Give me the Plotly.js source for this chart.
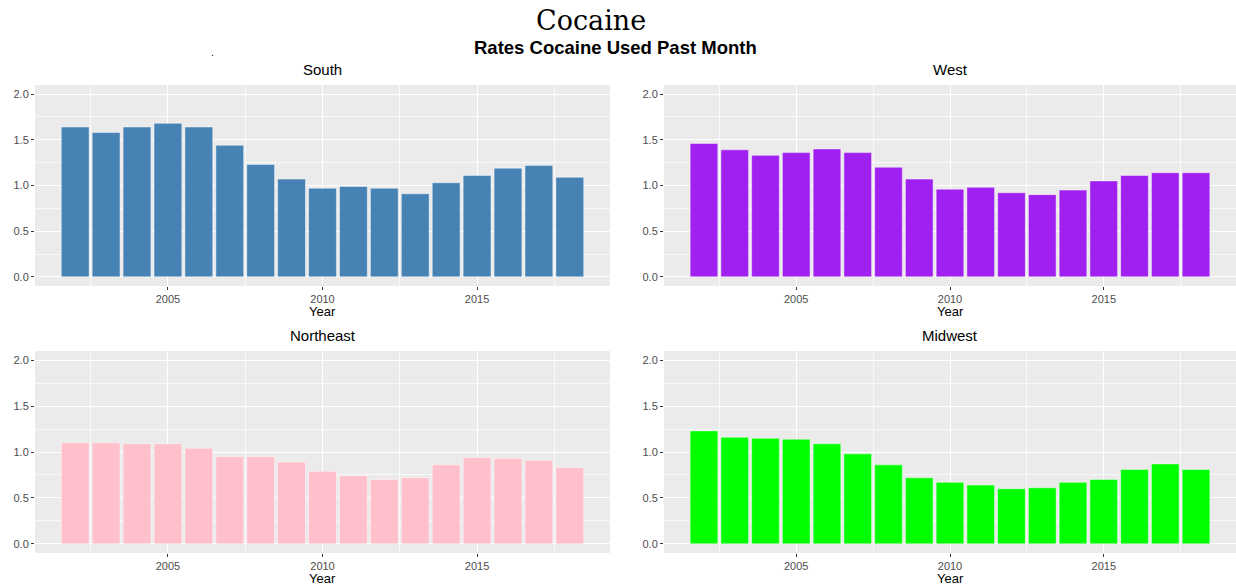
<!DOCTYPE html>
<html>
<head>
<meta charset="utf-8">
<script src="https://cdn.plot.ly/plotly-3.0.1.min.js"></script>
<style>html,body{margin:0;padding:0;background:#fff;}#chart{width:1236px;height:587px;}</style>
</head>
<body>
<div id="chart"></div>
<script>
const years = [2002,2003,2004,2005,2006,2007,2008,2009,2010,2011,2012,2013,2014,2015,2016,2017,2018];
const south =     [1.64,1.58,1.64,1.68,1.64,1.44,1.23,1.07,0.97,0.99,0.97,0.91,1.03,1.11,1.19,1.22,1.09];
const west =      [1.46,1.39,1.33,1.36,1.40,1.36,1.20,1.07,0.96,0.98,0.92,0.90,0.95,1.05,1.11,1.14,1.14];
const northeast = [1.10,1.10,1.09,1.09,1.04,0.95,0.95,0.89,0.79,0.74,0.70,0.72,0.86,0.94,0.93,0.91,0.83];
const midwest =   [1.23,1.16,1.15,1.14,1.09,0.98,0.86,0.72,0.67,0.64,0.60,0.61,0.67,0.70,0.81,0.87,0.81];
const regionNames = ["South","West","Northeast","Midwest"];
const regionColors = ["#4682B4","#A020F0","#FFC0CB","#00FF00"];
const mainTitle = "Cocaine";
const subTitle = "Rates Cocaine Used Past Month";
const xTitle = "Year";

const series = [south, west, northeast, midwest];
const W = 1236, H = 587;
const xDom = [[35/W, 610/W], [664/W, 1]];
const yDom = [[1-553/H, 1-351/H], [1-286/H, 1-85/H]];
// panel order: South (top-left), West (top-right), Northeast (bottom-left), Midwest (bottom-right)
const pos = [[0,1],[1,1],[0,0],[1,0]];

const traces = [];
const layout = {
  width: W, height: H,
  margin: {l:0, r:0, t:0, b:0},
  paper_bgcolor: "#ffffff",
  plot_bgcolor: "#EBEBEB",
  showlegend: false,
  bargap: 0.1,
  font: {family: "Liberation Sans, Arial, sans-serif"},
  annotations: []
};

series.forEach((vals, i) => {
  const n = i + 1;
  const xa = n === 1 ? "x" : "x" + n;
  const ya = n === 1 ? "y" : "y" + n;
  traces.push({
    type: "bar", x: years, y: vals, xaxis: xa, yaxis: ya,
    marker: {color: regionColors[i], line: {color: "rgba(255,255,255,0.45)", width: 1}},
    width: 0.9, hoverinfo: "x+y"
  });
  const xk = n === 1 ? "xaxis" : "xaxis" + n;
  const yk = n === 1 ? "yaxis" : "yaxis" + n;
  const [cx, cy] = pos[i];
  layout[xk] = {
    domain: xDom[cx], anchor: ya,
    range: [2000.7, 2019.3],
    tickmode: "array", tickvals: [2005, 2010, 2015],
    ticks: "outside", ticklen: 3, tickcolor: "#333333", tickwidth: 1,
    tickfont: {size: 11, color: "#4D4D4D"},
    showgrid: true, gridcolor: "#FFFFFF", gridwidth: 1,
    minor: {tickmode: "array", tickvals: [2002.5, 2007.5, 2012.5, 2017.5], showgrid: true, gridcolor: "#FFFFFF", gridwidth: 0.7, ticks: ""},
    zeroline: false, showline: false, fixedrange: true
  };
  layout[yk] = {
    domain: yDom[cy], anchor: xa,
    range: [-0.1, 2.1],
    tickmode: "array", tickvals: [0, 0.5, 1, 1.5, 2], ticktext: ["0.0","0.5","1.0","1.5","2.0"],
    ticks: "outside", ticklen: 3, tickcolor: "#333333", tickwidth: 1,
    tickfont: {size: 11, color: "#4D4D4D"},
    showgrid: true, gridcolor: "#FFFFFF", gridwidth: 1,
    minor: {tickmode: "array", tickvals: [0.25, 0.75, 1.25, 1.75], showgrid: true, gridcolor: "#FFFFFF", gridwidth: 0.7, ticks: ""},
    zeroline: false, showline: false, fixedrange: true
  };
  const xc = (xDom[cx][0] + xDom[cx][1]) / 2;
  layout.annotations.push({
    text: regionNames[i], xref: "paper", yref: "paper", x: xc, y: yDom[cy][1] + 5/H,
    xanchor: "center", yanchor: "bottom", showarrow: false,
    font: {size: 15, color: "#000000"}
  });
  layout.annotations.push({
    text: xTitle, xref: "paper", yref: "paper", x: xc, y: yDom[cy][0] - 16/H,
    xanchor: "center", yanchor: "top", showarrow: false,
    font: {size: 13, color: "#000000"}
  });
});

layout.annotations.push({
  text: mainTitle, xref: "paper", yref: "paper", x: 591/W, y: 1 - 3/H,
  xanchor: "center", yanchor: "top", showarrow: false,
  font: {size: 27, color: "#000000", family: "DejaVu Serif, Liberation Serif, serif"}
});
layout.annotations.push({
  text: "<b>" + subTitle + "</b>", xref: "paper", yref: "paper", x: 615/W, y: 1 - 35/H,
  xanchor: "center", yanchor: "top", showarrow: false,
  font: {size: 18.5, color: "#000000"}
});
layout.annotations.push({
  text: ".", xref: "paper", yref: "paper", x: 212/W, y: 1 - 45/H,
  xanchor: "center", yanchor: "top", showarrow: false,
  font: {size: 10, color: "#000000"}
});

Plotly.newPlot("chart", traces, layout, {staticPlot: true, displayModeBar: false});
</script>
</body>
</html>
